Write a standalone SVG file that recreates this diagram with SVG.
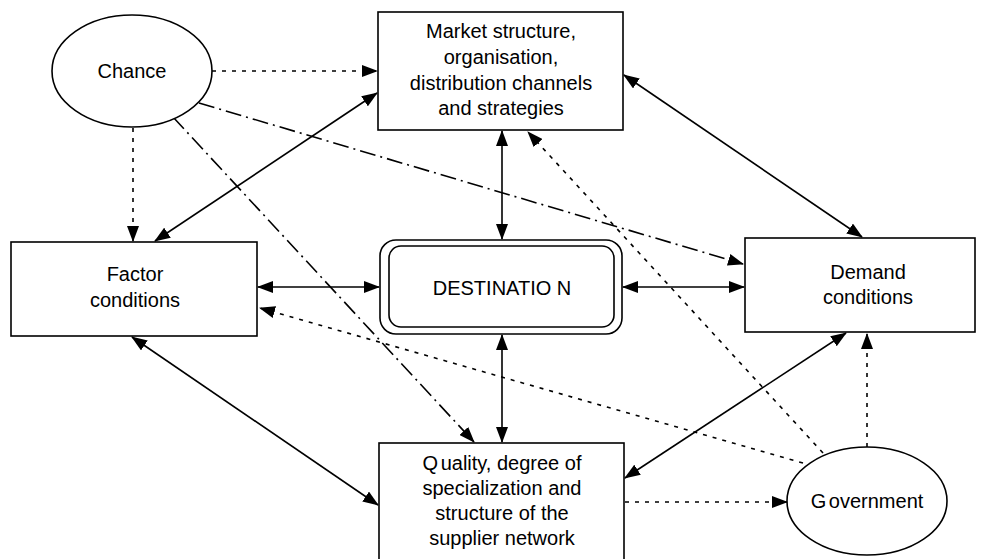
<svg xmlns="http://www.w3.org/2000/svg" width="985" height="559" viewBox="0 0 985 559">
<style>
.box{fill:#fff;stroke:#000;stroke-width:1.6}
.t{font-family:"Liberation Sans",Arial,sans-serif;font-size:20px;fill:#000;text-anchor:middle}
.g{word-spacing:-3px}
.c{fill:none;stroke:#000;stroke-width:1.6}
.dot{stroke-dasharray:4 6}
.dd{stroke-dasharray:16 5 2 5}
</style>
<defs>
<marker id="ah" markerUnits="userSpaceOnUse" markerWidth="16" markerHeight="12" viewBox="0 0 16 12" refX="15" refY="6" orient="auto-start-reverse">
<path d="M0,0 L16,6 L0,12 Z" fill="#000"/>
</marker>
</defs>
<rect x="0" y="0" width="985" height="559" fill="#fff"/>
<g id="connectors">
<line class="c dot" x1="212" y1="71" x2="377" y2="71" marker-end="url(#ah)"/>
<line class="c dot" x1="133" y1="128" x2="133" y2="241" marker-end="url(#ah)"/>
<line class="c" x1="377" y1="93" x2="155" y2="241" marker-start="url(#ah)" marker-end="url(#ah)"/>
<line class="c dd" x1="199" y1="103" x2="743" y2="264" marker-end="url(#ah)"/>
<line class="c dd" x1="173" y1="117" x2="474" y2="442" marker-end="url(#ah)"/>
<line class="c" x1="502" y1="131" x2="502" y2="239" marker-start="url(#ah)" marker-end="url(#ah)"/>
<line class="c dot" x1="823" y1="453" x2="528" y2="132" marker-end="url(#ah)"/>
<line class="c dot" x1="803" y1="463" x2="260" y2="308" marker-end="url(#ah)"/>
<line class="c" x1="258" y1="287" x2="379" y2="287" marker-start="url(#ah)" marker-end="url(#ah)"/>
<line class="c" x1="623" y1="287" x2="744" y2="287" marker-start="url(#ah)" marker-end="url(#ah)"/>
<line class="c" x1="502" y1="335" x2="502" y2="442" marker-start="url(#ah)" marker-end="url(#ah)"/>
<line class="c" x1="624" y1="75" x2="862" y2="237" marker-start="url(#ah)" marker-end="url(#ah)"/>
<line class="c" x1="132" y1="337" x2="378" y2="505" marker-start="url(#ah)" marker-end="url(#ah)"/>
<line class="c" x1="625" y1="478" x2="846" y2="333" marker-start="url(#ah)" marker-end="url(#ah)"/>
<line class="c dot" x1="625" y1="502" x2="787" y2="502" marker-end="url(#ah)"/>
<line class="c dot" x1="867" y1="447" x2="867" y2="334" marker-end="url(#ah)"/>
</g>
<g id="chance">
<ellipse class="box" cx="132" cy="71" rx="80" ry="56"/>
<text class="t" x="132" y="78">Chance</text>
</g>
<g id="market">
<rect class="box" x="378" y="12" width="245" height="118"/>
<text class="t" x="501" y="38">Market structure,</text>
<text class="t" x="501" y="64">organisation,</text>
<text class="t" x="501" y="90">distribution channels</text>
<text class="t" x="501" y="115">and strategies</text>
</g>
<g id="factor">
<rect class="box" x="11" y="242" width="246" height="94"/>
<text class="t" x="135" y="281">Factor</text>
<text class="t" x="135" y="307">conditions</text>
</g>
<g id="destination">
<rect class="box" x="380" y="240" width="242" height="94" rx="16"/>
<rect class="box" x="389" y="246" width="225" height="81" rx="12"/>
<text class="t" x="502" y="295">DESTINATIO N</text>
</g>
<g id="demand">
<rect class="box" x="745" y="238" width="230" height="94"/>
<text class="t" x="868" y="279">Demand</text>
<text class="t" x="868" y="304">conditions</text>
</g>
<g id="quality">
<rect class="box" x="379" y="443" width="245" height="118"/>
<text class="t" x="502" y="470"><tspan class="g">Q </tspan>uality, degree of</text>
<text class="t" x="502" y="495">specialization and</text>
<text class="t" x="502" y="520">structure of the</text>
<text class="t" x="502" y="545">supplier network</text>
</g>
<g id="government">
<ellipse class="box" cx="867" cy="501" rx="80" ry="54"/>
<text class="t" x="867" y="508"><tspan class="g">G </tspan>overnment</text>
</g>
</svg>
